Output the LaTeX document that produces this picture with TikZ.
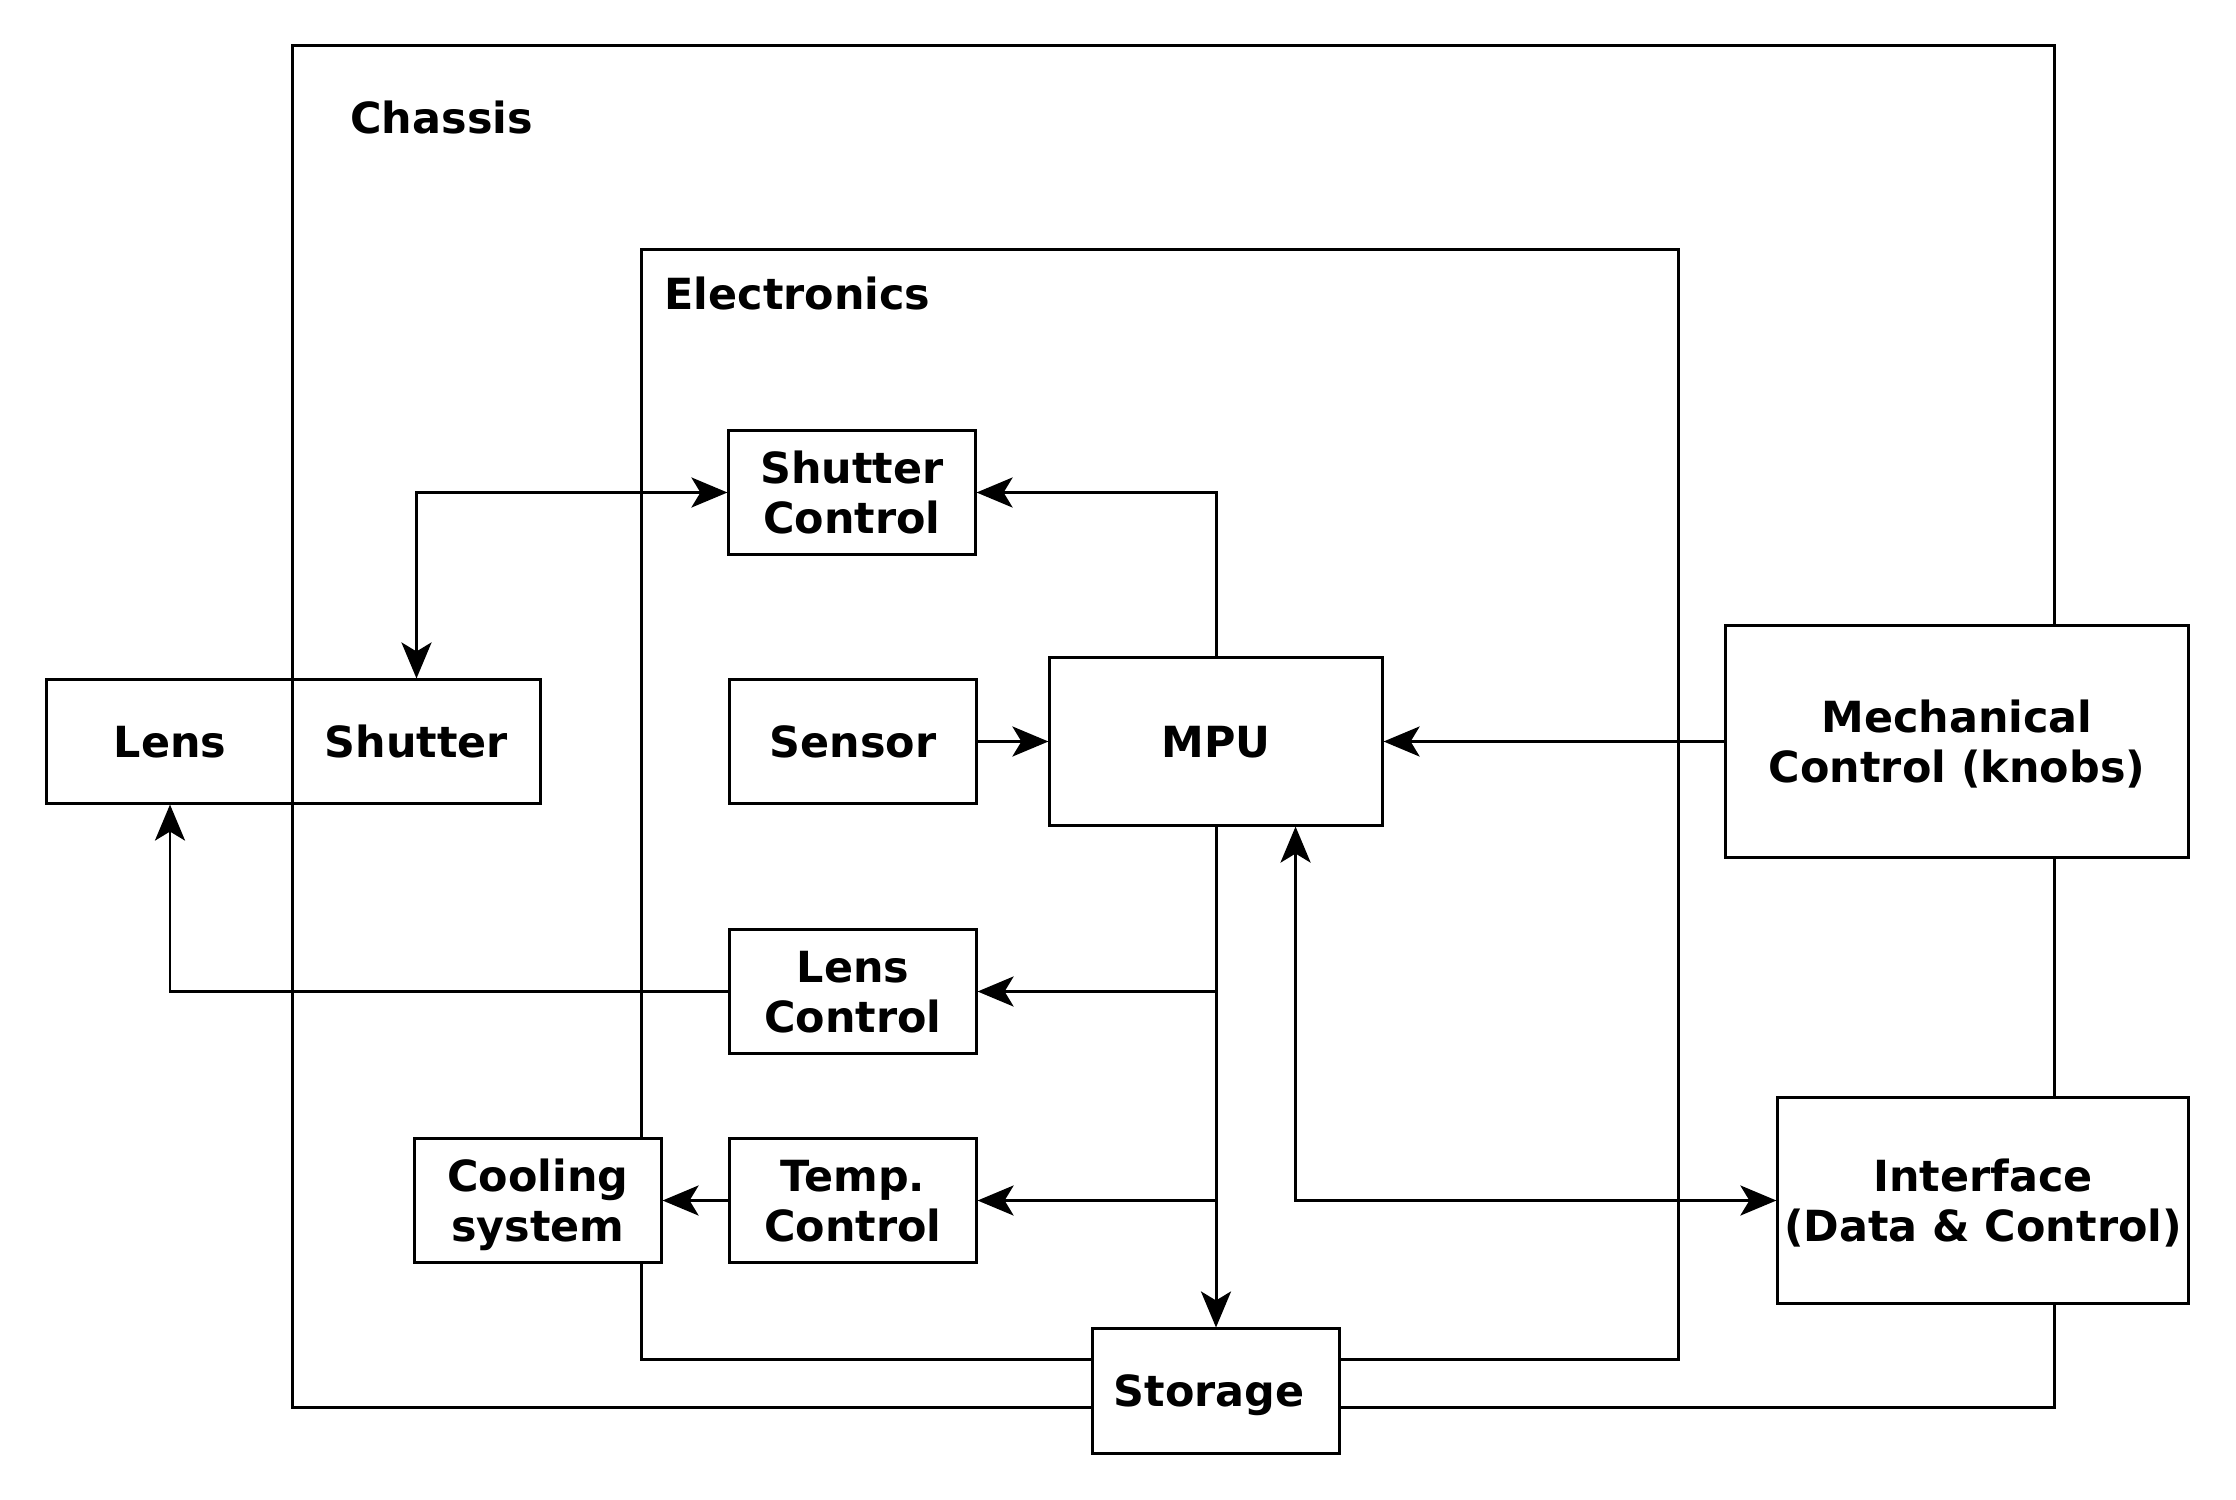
\documentclass[tikz,border=0pt]{standalone}
\usepackage{fontspec}
\setmainfont{DejaVu Sans}[BoldFont={DejaVu Sans Bold}]
\usetikzlibrary{arrows.meta}
\newcommand\mytopstrut{\rule{0pt}{0.423cm}}
\newcommand\mybotstrut{\rule[-0.11cm]{0pt}{0.11cm}}
\begin{document}
\begin{tikzpicture}[x=0.01cm,y=-0.01cm,
  line width=0.85pt,
  font=\fontsize{12.2}{14.2}\selectfont\bfseries,
  box/.style={draw, fill=white, align=center, inner sep=0pt,
    minimum width=2.46cm, minimum height=1.23cm},
  frame/.style={draw, inner sep=0pt},
  lbl/.style={inner sep=0pt, anchor=base west},
  arr/.style={-{Stealth[length=0.36cm,width=0.30cm,inset=0.09cm]}},
  darr/.style={{Stealth[length=0.36cm,width=0.30cm,inset=0.09cm]}-{Stealth[length=0.36cm,width=0.30cm,inset=0.09cm]}}
]
\useasboundingbox (0,0) rectangle (2236,1500);
% containers
\node[frame, minimum width=17.61cm, minimum height=13.61cm] (chassis) at (1173.5,726.5) {};
\node[frame, minimum width=10.36cm, minimum height=11.09cm] (electronics) at (1160,804.5) {};
\node[lbl] (chassislbl) at (349,134) {Chassis};
\node[lbl] (electronicslbl) at (663,310) {Electronics};
% boxes
\node[box] (lens) at (170,741.5) {\mytopstrut Lens\mybotstrut};
\node[box, minimum width=2.47cm] (shutter) at (416.5,741.5) {\mytopstrut Shutter\mybotstrut};
\node[box] (shutterctl) at (852,492.5) {\mytopstrut Shutter\\Control\mybotstrut};
\node[box] (sensor) at (853,741.5) {\mytopstrut Sensor\mybotstrut};
\node[box, minimum width=3.32cm, minimum height=1.67cm] (mpu) at (1216,741.5) {\mytopstrut MPU\mybotstrut};
\node[box] (lensctl) at (853,991.5) {\mytopstrut Lens\\Control\mybotstrut};
\node[box] (tempctl) at (853,1200.5) {\mytopstrut Temp.\\Control\mybotstrut};
\node[box] (cooling) at (538,1200.5) {\mytopstrut Cooling\\system\mybotstrut};
\node[box, minimum height=1.24cm] (storage) at (1216,1391) {\mytopstrut\hspace*{-0.14cm}Storage\mybotstrut};
\node[box, minimum width=4.62cm, minimum height=2.31cm] (mech) at (1957,741.5) {\mytopstrut Mechanical\\Control (knobs)\mybotstrut};
\node[box, minimum width=4.10cm, minimum height=2.05cm] (iface) at (1983,1200.5) {\mytopstrut Interface\\(Data \& Control)\mybotstrut};
\coordinate (mpuport) at ([xshift=0.795cm]mpu.south);
% connectors
\draw[darr] (shutter.north) |- (shutterctl.west);
\draw[arr] (mpu.north) |- (shutterctl.east);
\draw[arr] (sensor.east) -- (mpu.west);
\draw[arr] (mech.west) -- (mpu.east);
\draw[arr] (mpu.south) -- (storage.north);
\draw[arr] (mpu.south |- lensctl.east) -- (lensctl.east);
\draw[arr] (mpu.south |- tempctl.east) -- (tempctl.east);
\draw[arr] (tempctl.west) -- (cooling.east);
\draw[arr] (lensctl.west) -| (lens.south);
\draw[darr] (mpuport) |- (iface.west);
\end{tikzpicture}
\end{document}
